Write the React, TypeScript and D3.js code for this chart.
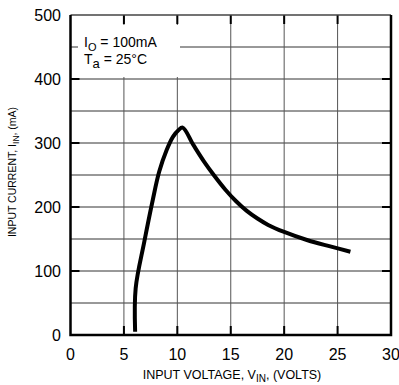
// App.tsx
import React, { useEffect, useRef } from 'react';
import * as d3 from 'd3';

// input voltage (V) and input current (mA)
const vin = [6.05, 6.1, 6.9, 7.7, 8.3, 9.0, 9.6, 10.1, 10.5, 11.5, 12.5, 13.5, 14.5, 15.5, 16.5, 17.5, 18.5, 20.0, 22.2, 24.4, 26.2];
const iin = [5, 73, 145, 211, 255, 289, 310, 320, 324, 297, 271, 248, 227, 209, 194, 182, 172, 161, 148, 138, 130];

const xTicks = [0, 5, 10, 15, 20, 25, 30];
const yTicks = [0, 100, 200, 300, 400, 500];
const yGrid = [50, 100, 150, 200, 250, 300, 350, 400, 450];
const xGrid = [5, 10, 15, 20, 25];

const App = () => {
  const svgRef = useRef<SVGSVGElement>(null);

  useEffect(() => {
    const width = 399;
    const height = 385;
    const font = 'Liberation Sans, Arial, Helvetica, sans-serif';

    const svg = d3.select(svgRef.current)
      .attr('width', width)
      .attr('height', height);
    svg.selectAll('*').remove();

    const x = d3.scaleLinear().domain([0, 30]).range([70.5, 391]);
    const y = d3.scaleLinear().domain([0, 500]).range([335, 15]);

    // grid
    svg.append('g')
      .selectAll('line')
      .data(yGrid)
      .enter()
      .append('line')
      .attr('x1', x(0)).attr('x2', x(30))
      .attr('y1', d => y(d)).attr('y2', d => y(d))
      .attr('stroke', '#333')
      .attr('stroke-width', 1);

    svg.append('g')
      .selectAll('line')
      .data(xGrid)
      .enter()
      .append('line')
      .attr('x1', d => x(d)).attr('x2', d => x(d))
      .attr('y1', y(0)).attr('y2', y(500))
      .attr('stroke', '#555')
      .attr('stroke-width', 1);

    // ticks inside the frame
    const tk = svg.append('g').attr('stroke', '#000').attr('stroke-width', 2);
    xGrid.forEach(d => {
      tk.append('line').attr('x1', x(d)).attr('x2', x(d)).attr('y1', y(0)).attr('y2', y(0) - 9);
      tk.append('line').attr('x1', x(d)).attr('x2', x(d)).attr('y1', y(500)).attr('y2', y(500) + 9);
    });
    yTicks.slice(1, -1).forEach(d => {
      tk.append('line').attr('x1', x(0)).attr('x2', x(0) + 9).attr('y1', y(d)).attr('y2', y(d));
      tk.append('line').attr('x1', x(30)).attr('x2', x(30) - 9).attr('y1', y(d)).attr('y2', y(d));
    });

    // note box
    svg.append('rect')
      .attr('x', 78).attr('y', 25).attr('width', 102).attr('height', 52)
      .attr('fill', '#fff');

    const note = svg.append('g')
      .attr('font-family', font)
      .attr('font-size', 14)
      .attr('fill', '#000');
    const n1 = note.append('text').attr('x', 84).attr('y', 47);
    n1.append('tspan').text('I');
    n1.append('tspan').attr('dy', 4).attr('font-size', 11).text('O');
    n1.append('tspan').attr('dy', -4).text(' = 100mA');
    const n2 = note.append('text').attr('x', 84).attr('y', 64);
    n2.append('tspan').text('T');
    n2.append('tspan').attr('dy', 4).attr('font-size', 13).text('a');
    n2.append('tspan').attr('dy', -4).text(' = 25°C');

    // frame
    svg.append('line')
      .attr('x1', x(0)).attr('x2', x(30)).attr('y1', y(500)).attr('y2', y(500))
      .attr('stroke', '#444').attr('stroke-width', 1.5);
    svg.append('path')
      .attr('d', `M${x(0)},${y(500)}V${y(0)}H${x(30)}V${y(500)}`)
      .attr('fill', 'none')
      .attr('stroke', '#000')
      .attr('stroke-width', 2.5);

    // curve
    const pts = vin.map((v, i) => [v, iin[i]] as [number, number]);
    const line = d3.line<[number, number]>()
      .x(d => x(d[0]))
      .y(d => y(d[1]))
      .curve(d3.curveCatmullRom.alpha(0.5));
    svg.append('path')
      .attr('d', line(pts))
      .attr('fill', 'none')
      .attr('stroke', '#000')
      .attr('stroke-width', 4)
      .attr('stroke-linejoin', 'round');

    // tick labels
    svg.append('g')
      .selectAll('text')
      .data(xTicks)
      .enter()
      .append('text')
      .attr('x', d => x(d))
      .attr('y', 360)
      .attr('text-anchor', 'middle')
      .attr('font-family', font)
      .attr('font-size', 16)
      .text(d => d);

    svg.append('g')
      .selectAll('text')
      .data(yTicks)
      .enter()
      .append('text')
      .attr('x', 61)
      .attr('y', d => y(d) + 6)
      .attr('text-anchor', 'end')
      .attr('font-family', font)
      .attr('font-size', 16)
      .text(d => d);

    // axis titles
    const xt = svg.append('text')
      .attr('x', 232)
      .attr('y', 379)
      .attr('text-anchor', 'middle')
      .attr('font-family', font)
      .attr('font-size', 12.5);
    xt.append('tspan').text('INPUT VOLTAGE, V');
    xt.append('tspan').attr('dy', 2.5).attr('font-size', 10).text('IN');
    xt.append('tspan').attr('dy', -2.5).text(', (VOLTS)');

    const yt = svg.append('text')
      .attr('transform', 'translate(16,172) rotate(-90)')
      .attr('text-anchor', 'middle')
      .attr('font-family', font)
      .attr('font-size', 10.5);
    yt.append('tspan').text('INPUT CURRENT, I');
    yt.append('tspan').attr('dy', 3).attr('font-size', 8.5).text('IN');
    yt.append('tspan').attr('dy', -3).text(', (mA)');
  }, []);

  return <svg ref={svgRef} style={{ position: 'absolute', left: 0, top: 0 }}></svg>;
};

export default App;
